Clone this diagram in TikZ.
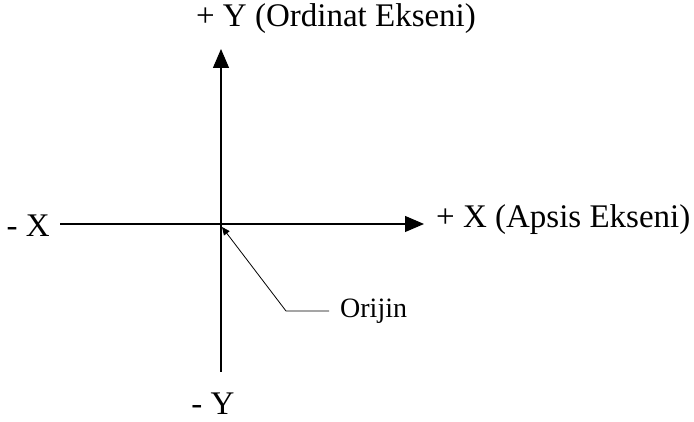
\documentclass[tikz,border=0pt]{standalone}
\usepackage{fontspec}
\setmainfont{Liberation Serif}
\usetikzlibrary{arrows.meta,positioning}
\tikzset{
  axis/.style={line width=1.1pt,-{Triangle[length=19pt,width=16pt]}},
  leader/.style={line width=0.8pt,{Triangle[length=8pt,width=7pt]}-},
  lbl/.style={font=\fontsize{33}{35}\selectfont,inner sep=0pt},
  note/.style={font=\fontsize{28}{30}\selectfont,inner sep=0pt},
}
\begin{document}
\begin{tikzpicture}[x=1pt,y=1pt]
  \useasboundingbox (0,0) rectangle (694,422);
  \coordinate (o) at (221,198);
  \coordinate (xl) at (60,198);
  \coordinate (xr) at (424,198);
  \coordinate (yt) at (221,373);
  \coordinate (yb) at (221,50);
  \coordinate (tip) at (222,195);
  \coordinate (bend) at (286,111);
  \coordinate (lend) at (329,111);

  \draw[axis] (xl) -- (xr);
  \draw[axis] (yb) -- (yt);

  \node[lbl] (ypos) at (336,403) {+ Y (Ordinat Ekseni)};
  \node[lbl] (yneg) at (213,18) {- Y};
  \node[lbl, anchor=west] (xpos) at (436,202) {+ X (Apsis Ekseni)};
  \node[lbl, anchor=east] (xneg) at (50,196) {- X};
  \node[note, anchor=west, right=11pt of lend] (orijin) {Orijin};

  \draw[leader] (tip) -- (bend) -- (lend);
\end{tikzpicture}
\end{document}
